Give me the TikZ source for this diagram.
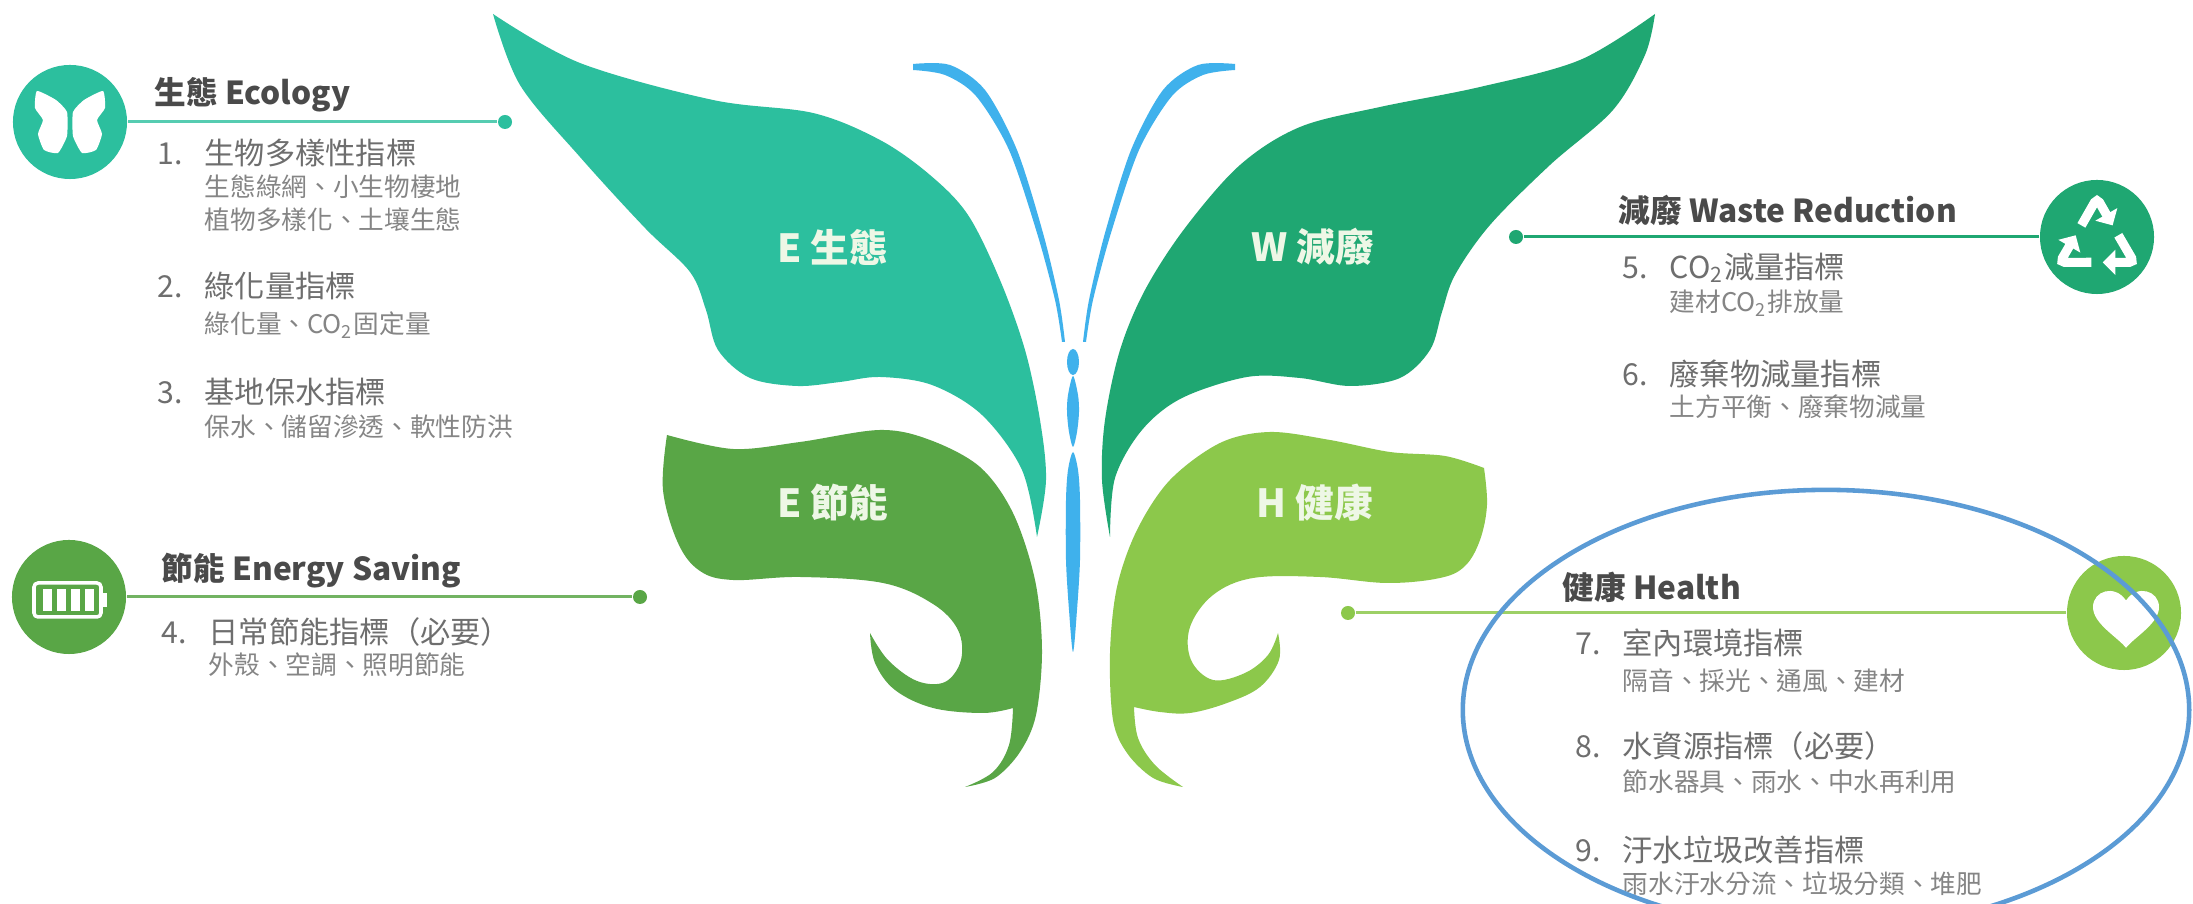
\documentclass[tikz,border=0pt]{standalone}
\usepackage{fontspec}
\setmainfont{Noto Sans CJK TC}
\usetikzlibrary{arrows.meta, positioning}

\definecolor{ecoteal}{HTML}{2CBF9E}
\definecolor{wastegreen}{HTML}{1FA772}
\definecolor{energygreen}{HTML}{59A646}
\definecolor{healthgreen}{HTML}{8CC84B}
\definecolor{bodyblue}{HTML}{3FB1EC}
\definecolor{ringblue}{HTML}{5B9BD5}
\definecolor{labelwhite}{HTML}{EEF7E6}
\definecolor{headgray}{HTML}{4A4A4A}
\definecolor{itemgray}{HTML}{6E6E6E}
\definecolor{subgray}{HTML}{858585}

\newcommand{\itemno}[1]{\makebox[0.47cm][l]{#1}}

\begin{document}
\begin{tikzpicture}[x=0.01cm, y=-0.01cm,
    winglabel/.style={text=labelwhite, font=\fontsize{11}{13}\selectfont\bfseries},
    icon/.style={circle, minimum size=1.14cm, inner sep=0pt},
    enddot/.style={circle, minimum size=0.14cm, inner sep=0pt},
    link/.style={line width=0.85pt},
    headtxt/.style={anchor=west, inner sep=0pt, text=headgray, font=\fontsize{9}{11}\selectfont\bfseries},
    itemtxt/.style={anchor=west, inner sep=0pt, text=itemgray, font=\fontsize{8.6}{10}\selectfont},
    subtxt/.style={anchor=west, inner sep=0pt, text=subgray, font=\fontsize{7.3}{9}\selectfont}]

    \fill[white] (0,0) rectangle (2193,904);
    \useasboundingbox (0,0) rectangle (2193,904);

    % upper wings
    \fill[ecoteal] plot[smooth, tension=0.55] coordinates {(493,14) (580,63) (713,100) (813,113) (880,140) (930,175) (968,215) (1000,280) (1025,350) (1040,420) (1046,480) (1037,537)}
        -- plot[smooth, tension=0.55] coordinates {(1037,537) (1022,470) (982,415) (932,385) (880,377) (840,382) (797,386) (750,378) (718,350) (706,310) (690,272) (645,228) (580,157) (520,85) (493,14)} -- cycle;
    \fill[wastegreen] plot[smooth, tension=0.55] coordinates {(1655,14) (1580,60) (1480,87) (1380,107) (1300,127) (1240,165) (1185,228) (1145,290) (1120,350) (1105,420) (1102,480) (1110,537)}
        -- plot[smooth, tension=0.55] coordinates {(1110,537) (1115,478) (1142,430) (1182,398) (1247,377) (1300,378) (1350,386) (1400,378) (1430,350) (1442,312) (1455,275) (1490,225) (1550,165) (1613,110) (1645,55) (1655,14)} -- cycle;

    % lower wings with the curled tails
    \fill[energygreen] plot[smooth, tension=0.55] coordinates {(667,435) (733,449) (800,442) (880,430) (930,440) (980,467) (1013,513) (1035,580) (1042,650) (1036,715) (1020,752) (995,778) (965,787)}
        -- plot[smooth, tension=0.6] coordinates {(965,787) (993,772) (1009,745) (1013,708)}
        -- plot[smooth, tension=0.6] coordinates {(1013,708) (983,713) (933,708) (895,690) (875,663) (870,633)}
        -- plot[smooth, tension=0.6] coordinates {(870,633) (888,660) (917,681) (945,682) (961,660) (958,630) (933,604) (883,583) (800,577) (733,580) (700,571) (678,543) (663,490) (667,435)} -- cycle;
    \fill[healthgreen] plot[smooth, tension=0.55] coordinates {(1484,468) (1445,456) (1390,452) (1330,440) (1270,432) (1220,443) (1170,480) (1137,530) (1117,587) (1110,653) (1113,720) (1127,753) (1153,778) (1183,787)}
        -- plot[smooth, tension=0.6] coordinates {(1183,787) (1155,765) (1138,738) (1134,707)}
        -- plot[smooth, tension=0.6] coordinates {(1134,707) (1160,712) (1190,713) (1227,703) (1260,687) (1279,660) (1278,633)}
        -- plot[smooth, tension=0.6] coordinates {(1278,633) (1268,655) (1245,673) (1213,680) (1191,660) (1190,627) (1213,595) (1253,578) (1320,577) (1387,583) (1440,578) (1465,566) (1480,540) (1487,505) (1484,468)} -- cycle;

    % body and antennae
    \fill[bodyblue] (1073,362) ellipse [x radius=0.06cm, y radius=0.13cm];
    \fill[bodyblue] plot[smooth cycle] coordinates {(1073,376) (1078,395) (1079,412) (1077,432) (1073,447) (1069,432) (1067,412) (1068,395)};
    \fill[bodyblue] plot[smooth cycle] coordinates {(1073,452) (1078,470) (1080,500) (1080,560) (1077,610) (1073,652) (1069,610) (1066,560) (1066,500) (1068,470)};
    \fill[bodyblue] plot[smooth] coordinates {(913,64) (950,65) (985,90) (1017,150) (1043,233) (1059,300) (1065,342)}
        -- plot[smooth] coordinates {(1062,342) (1055,300) (1037,233) (1009,150) (976,96) (945,75) (913,70)} -- cycle;
    \fill[bodyblue] plot[smooth] coordinates {(1235,64) (1198,65) (1163,90) (1131,150) (1105,233) (1089,300) (1083,342)}
        -- plot[smooth] coordinates {(1086,342) (1093,300) (1111,233) (1139,150) (1172,96) (1203,75) (1235,70)} -- cycle;

    \node[winglabel] (ecolabel) at (833,247) {E 生態};
    \node[winglabel] (wastelabel) at (1313,247) {W 減廢};
    \node[winglabel] (energylabel) at (833,503) {E 節能};
    \node[winglabel] (healthlabel) at (1315,503) {H 健康};

    % icons and their links
    \node[icon, fill=ecoteal] (ecoicon) at (70,122) {};
    \node[icon, fill=energygreen] (energyicon) at (69,597) {};
    \node[icon, fill=wastegreen] (wasteicon) at (2097,237) {};
    \node[icon, fill=healthgreen] (healthicon) at (2124,613) {};

    \node[enddot, fill=ecoteal] (ecodot) at (505,122) {};
    \node[enddot, fill=energygreen] (energydot) at (640,597) {};
    \node[enddot, fill=wastegreen] (wastedot) at (1516,237) {};
    \node[enddot, fill=healthgreen] (healthdot) at (1348,613) {};

    \draw[link, ecoteal!80] (ecoicon) -- (ecodot);
    \draw[link, energygreen!85] (energyicon) -- (energydot);
    \draw[link, wastegreen] (wastedot) -- (wasteicon);
    \draw[link, healthgreen!85] (healthdot) -- (healthicon);

    \begin{scope}[shift={(70,122)}]
        \foreach \s in {1,-1}
            \fill[white] plot[smooth cycle, tension=0.3] coordinates {(\s*3,-10) (\s*14,-22) (\s*33,-31) (\s*35,-14) (\s*27,-2) (\s*32,12) (\s*26,28) (\s*12,31) (\s*3,14)};
    \end{scope}
    \begin{scope}[shift={(70,600)}]
        \draw[white, line width=1pt, rounded corners=0.04cm] (-36,-17) rectangle (31,17);
        \fill[white] (31,-7) rectangle (37,7);
        \foreach \bx in {-27,-13,1,15}
            \fill[white] (\bx,-11) rectangle (\bx+9,11);
    \end{scope}
    % recycling arrows round a triangle
    \begin{scope}[shift={(2097,241)}, scale=1.3]
        \foreach \r in {0,120,240}
            \draw[white, line width=2.6pt, rounded corners=0.05cm, rotate=\r,
                -{Triangle[width=7pt,length=3.6pt]}] (-12,-12) -- (0,-33) -- (12,-12);
    \end{scope}
    \fill[white, shift={(2126,617)}, scale=1.1] (0,28) .. controls (-8,18) and (-30,6) .. (-30,-9) .. controls (-30,-24) and (-10,-30) .. (0,-15) .. controls (10,-30) and (30,-24) .. (30,-9) .. controls (30,6) and (8,18) .. (0,28) -- cycle;

    % ecology
    \node[headtxt] (ecohead) at (154,95) {生態 Ecology};
    \node[itemtxt] (eco1) at (157,153) {\itemno{1.}生物多樣性指標};
    \node[subtxt] (eco1a) at (204,187) {生態綠網、小生物棲地};
    \node[subtxt] (eco1b) at (204,220) {植物多樣化、土壤生態};
    \node[itemtxt] (eco2) at (157,286) {\itemno{2.}綠化量指標};
    \node[subtxt] (eco2a) at (204,325) {綠化量、CO\textsubscript{2}固定量};
    \node[itemtxt] (eco3) at (157,392) {\itemno{3.}基地保水指標};
    \node[subtxt] (eco3a) at (204,427) {保水、儲留滲透、軟性防洪};

    % energy saving
    \node[headtxt] (energyhead) at (161,571) {節能 Energy Saving};
    \node[itemtxt] (energy4) at (161,632) {\itemno{4.}日常節能指標（必要）};
    \node[subtxt] (energy4a) at (208,665) {外殼、空調、照明節能};

    % waste reduction
    \node[headtxt] (wastehead) at (1618,210) {減廢 Waste Reduction};
    \node[itemtxt] (waste5) at (1622,268) {\itemno{5.}CO\textsubscript{2}減量指標};
    \node[subtxt] (waste5a) at (1669,303) {建材CO\textsubscript{2}排放量};
    \node[itemtxt] (waste6) at (1622,374) {\itemno{6.}廢棄物減量指標};
    \node[subtxt] (waste6a) at (1669,407) {土方平衡、廢棄物減量};

    % health
    \node[headtxt] (healthhead) at (1562,587) {健康 Health};
    \node[itemtxt] (health7) at (1575,643) {\itemno{7.}室內環境指標};
    \node[subtxt] (health7a) at (1622,681) {隔音、採光、通風、建材};
    \node[itemtxt] (health8) at (1575,746) {\itemno{8.}水資源指標（必要）};
    \node[subtxt] (health8a) at (1622,782) {節水器具、雨水、中水再利用};
    \node[itemtxt] (health9) at (1575,850) {\itemno{9.}汙水垃圾改善指標};
    \node[subtxt] (health9a) at (1622,884) {雨水汙水分流、垃圾分類、堆肥};

    \draw[ringblue, line width=1.3pt] (1826,710) ellipse [x radius=3.63cm, y radius=2.2cm];
\end{tikzpicture}
\end{document}
